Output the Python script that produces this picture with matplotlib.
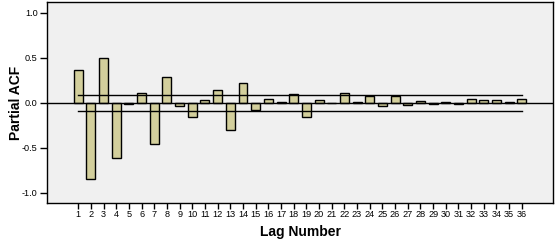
# Partial ACF chart, SPSS-like style
import matplotlib
matplotlib.use("Agg")
import matplotlib.pyplot as plt

plt.rcParams["font.family"] = ["Liberation Sans", "DejaVu Sans"]

# Data
lags = list(range(1, 37))
pacf = [0.36, -0.845, 0.50, -0.61, -0.01, 0.11, -0.455, 0.29, -0.035, -0.155,
        0.035, 0.145, -0.30, 0.22, -0.08, 0.045, 0.01, 0.095, -0.16, 0.035,
        0.0, 0.11, 0.01, 0.08, -0.035, 0.08, -0.025, 0.02, -0.01, 0.01,
        -0.01, 0.045, 0.035, 0.035, 0.01, 0.045]
conf_limit = 0.088
yticks = [-1.0, -0.5, 0.0, 0.5, 1.0]
ytick_labels = ["-1.0", "-0.5", "0.0", "0.5", "1.0"]

BAR_COLOR = "#d3cf9c"
BG_COLOR = "#f0f0f0"

fig = plt.figure(figsize=(5.56, 2.40), dpi=100)
ax = fig.add_axes([0.0854, 0.154, 0.910, 0.836])
ax.set_facecolor(BG_COLOR)

ax.bar(lags, pacf, width=0.71, color=BAR_COLOR, edgecolor="black", linewidth=1.0, zorder=2)

# zero line and confidence limits
ax.axhline(0, color="black", linewidth=1.0, zorder=3)
ax.plot([lags[0], lags[-1]], [conf_limit, conf_limit], color="black", linewidth=1.0, zorder=3)
ax.plot([lags[0], lags[-1]], [-conf_limit, -conf_limit], color="black", linewidth=1.0, zorder=3)

ax.set_xlim(-1.43, 38.5)
ax.set_ylim(-1.115, 1.115)

ax.set_xticks(lags)
ax.set_xticklabels([str(l) for l in lags], fontsize=6.6)
ax.set_yticks(yticks)
ax.set_yticklabels(ytick_labels, fontsize=6.6)
ax.tick_params(axis="y", direction="out", length=5, width=1, pad=2)
ax.tick_params(axis="x", direction="out", length=4.3, width=1, pad=1)

for side in ["top", "right", "left", "bottom"]:
    ax.spines[side].set_linewidth(1.0)

ax.set_xlabel("Lag Number", fontsize=10, fontweight="bold", va="center")
ax.set_ylabel("Partial ACF", fontsize=10, fontweight="bold", va="center")
ax.xaxis.set_label_coords(0.5, -(232 - 203) / 201)
ax.yaxis.set_label_coords((16 - 47.5) / 506, 0.5)

fig.savefig("out.png", dpi=100)
